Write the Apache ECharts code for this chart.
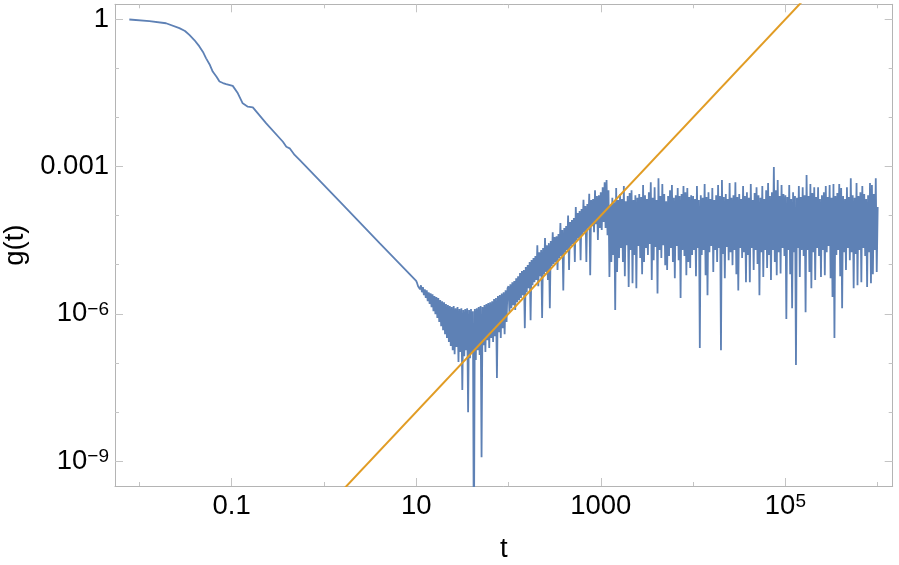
<!DOCTYPE html>
<html>
<head>
<meta charset="utf-8">
<script src="https://cdn.jsdelivr.net/npm/echarts@6/dist/echarts.min.js"></script>
<style>html,body{margin:0;padding:0;background:#fff}#c{width:899px;height:565px}</style>
</head>
<body>
<div id="c"></div>
<script>
// ---- data: [t, g(t)] ----
const smoothPart = [[0.0078,0.99],[0.0129,0.92],[0.0195,0.83],[0.0272,0.66],[0.0313,0.578],[0.0349,0.48],[0.0395,0.378],[0.0448,0.28],[0.049,0.216],[0.053,0.16],[0.0583,0.117],[0.0625,0.086],[0.069,0.0667],[0.074,0.054],[0.0807,0.0503],[0.0874,0.048],[0.103,0.044],[0.117,0.031],[0.132,0.0194],[0.150,0.0166],[0.170,0.0161],[0.2375,0.0076],[0.36,0.0032],[0.392,0.00253],[0.426,0.00235],[0.482,0.00172],[0.546,0.00136],[1.49,1.93e-4],[4.04,2.72e-5],[7.53,8.15e-6],[10,4.67e-6]];
const noise10 = [[10.24,4.2e-6],[10.49,3.65e-6],[10.75,4.0e-6],[11.01,3.15e-6],[11.27,3.8e-6],[11.55,2.75e-6],[11.83,3.5e-6],[12.12,2.4e-6],[12.41,3.15e-6],[12.71,2.1e-6],[13.02,3.0e-6],[13.34,1.8e-6],[13.66,2.75e-6],[13.99,1.58e-6],[14.33,2.6e-6],[14.68,1.37e-6],[15.03,2.5e-6],[15.40,1.13e-6],[15.77,2.3e-6],[16.16,9.8e-7],[16.55,2.2e-6],[16.96,8.2e-7],[17.36,2.1e-6],[17.78,6.8e-7],[18.22,1.9e-6],[18.66,5.6e-7],[19.11,1.8e-6],[19.57,4.6e-7],[20.05,1.72e-6],[20.54,3.85e-7],[21.03,1.58e-6],[21.54,3.2e-7],[22.07,1.5e-6],[22.61,2.65e-7],[23.15,1.44e-6],[23.71,2.2e-7],[24.29,1.37e-6],[24.88,1.8e-7],[25.49,1.44e-6],[26.10,1.5e-7],[26.74,1.3e-6],[27.38,2.1e-7],[28.05,1.37e-6],[28.73,1.04e-7],[29.43,1.25e-6],[30.15,1.66e-7],[30.88,1.3e-6],[31.62,2.8e-8],[32.40,1.19e-6],[33.18,1.37e-7],[33.99,1.25e-6],[34.81,1.8e-7],[35.66,1.3e-6],[36.52,9.9e-9],[37.41,1.19e-6],[38.31,1.25e-7],[39.25,1.25e-6],[40.20,1.66e-7],[41.18,1.13e-6],[42.17,1e-11],[43.20,1.25e-6],[44.25,1.14e-7],[45.32,1.3e-6],[46.42,1.8e-7],[47.55,1.37e-6],[48.70,1.44e-7],[49.89,1.44e-6],[51.09,1.2e-9],[52.34,1.37e-6],[53.61,2.3e-7],[54.91,1.5e-6],[56.23,1.66e-7],[57.61,1.58e-6],[59.00,2.9e-7],[60.43,1.65e-6],[61.90,2.0e-7],[63.40,1.72e-6],[64.94,3.2e-7],[66.52,1.8e-6],[68.13,2.65e-7],[69.79,2.0e-6],[71.48,3.5e-7],[73.21,2.1e-6],[74.99,4.9e-8],[76.81,2.3e-6],[78.68,4.2e-7],[80.58,2.4e-6],[82.54,3.2e-7],[84.54,2.6e-6],[86.60,5.1e-7],[88.69,2.75e-6],[90.85,3.85e-7],[93.06,3.0e-6],[95.32,6.8e-7],[97.63,3.3e-6]];
const noise100 = [[100,3.65e-6],[102.4,1.08e-6],[104.9,4.0e-6],[107.5,1.3e-6],[110.1,4.4e-6],[112.7,1.5e-6],[115.5,4.65e-6],[118.3,1.19e-6],[121.2,5.3e-6],[124.1,1.72e-6],[127.1,5.8e-6],[130.2,1.9e-6],[133.4,6.8e-6],[136.6,2.1e-6],[139.9,7.4e-6],[143.3,2.4e-6],[146.8,7.8e-6],[150.3,5.1e-7],[154.0,9.0e-6],[157.7,2.75e-6],[161.6,9.8e-6],[165.5,3.3e-6],[169.6,1.13e-5],[173.6,7.4e-7],[177.8,1.24e-5],[182.2,3.8e-6],[186.6,1.37e-5],[191.1,4.4e-6],[195.7,1.5e-5],[200.5,4.9e-6],[205.4,2.5e-5],[210.3,3.65e-6],[215.4,1.8e-5],[220.7,5.8e-6],[226.1,2.0e-5],[231.5,8.2e-7],[237.1,2.2e-5],[242.9,6.4e-6],[248.8,3.5e-5],[254.9,7.1e-6],[261.0,2.5e-5],[267.4,4.9e-6],[273.8,2.75e-5],[280.5,1.3e-6],[287.3,3.05e-5],[294.3,9.4e-6],[301.5,4.6e-5],[308.8,1.03e-5],[316.2,3.65e-5],[324.0,1.13e-5],[331.8,3.8e-5],[339.9,7.8e-6],[348.1,4.2e-5],[356.6,1.37e-5],[365.2,7.1e-5],[374.1,1.5e-5],[383.1,5.1e-5],[392.5,3.0e-6],[402.0,5.6e-5],[411.8,1.8e-5],[421.7,6.1e-5],[432.0,2.0e-5],[442.5,1.0e-4],[453.2,7.8e-6],[464.2,7.4e-5],[475.5,2.4e-5],[487.0,8.1e-5],[498.9,2.64e-5],[510.9,8.9e-5],[523.4,1.13e-5],[536.1,1.5e-4],[549.1,3.2e-5],[562.3,1.13e-4],[576.1,3.5e-5],[590.0,1.24e-4],[604.3,1.24e-5],[619.0,1.36e-4],[634.0,4.2e-5],[649.4,2.1e-4],[665.2,4.6e-5],[681.3,1.56e-4],[697.9,1.13e-5],[714.8,1.72e-4],[732.1,5.6e-5],[749.9,2.8e-4],[768.1,6.1e-6],[786.8,2.07e-4],[805.8,6.1e-5],[825.4,2.17e-4],[845.4,4.6e-5],[866.0,3.3e-4],[886.9,6.7e-5],[908.5,2.5e-4],[930.6,3.2e-5],[953.2,2.6e-4],[976.3,5.6e-5]];
const noise1000 = [[1000,3.0e-4],[1024,5.1e-5],[1049,3.8e-4],[1075,7.4e-5],[1101,4.8e-4],[1127,5.6e-5],[1155,5.3e-4],[1183,4.0e-5],[1212,3.3e-4],[1241,5.6e-6],[1271,1.64e-4],[1302,1.13e-5],[1334,2.3e-4],[1366,1.57e-5],[1399,1.88e-4],[1433,1.19e-6],[1468,3.65e-4],[1503,7.1e-6],[1540,2.07e-4],[1577,1.37e-5],[1616,2.75e-4],[1655,2.2e-5],[1696,2.17e-4],[1736,1.13e-5],[1778,4.0e-4],[1822,5.8e-6],[1866,1.97e-4],[1911,2.5e-5],[1957,2.5e-4],[2005,3.5e-6],[2054,2.9e-4],[2103,2.0e-5],[2154,3.3e-4],[2207,4.2e-6],[2261,2.07e-4],[2315,1.57e-5],[2371,2.6e-4],[2429,3.3e-6],[2488,2.3e-4],[2549,2.4e-5],[2610,2.75e-4],[2674,1.37e-5],[2738,2.4e-4],[2805,6.4e-6],[2873,4.2e-4],[2943,1.13e-5],[3015,2.6e-4],[3088,2.2e-5],[3162,2.17e-4],[3240,1.57e-5],[3318,3.0e-4],[3399,2.64e-5],[3481,4.8e-4],[3566,4.9e-6],[3652,2.3e-4],[3741,1.24e-5],[3831,3.8e-4],[3925,2.3e-5],[4020,2.07e-4],[4118,2.6e-6],[4217,5.8e-4],[4320,2.0e-5],[4425,2.5e-4],[4532,1.37e-5],[4642,4.4e-4],[4755,2.5e-5],[4870,2.75e-4],[4989,9.8e-6],[5109,1.97e-4],[5234,7.8e-6],[5361,2.5e-4],[5491,1.5e-5],[5623,3.3e-4],[5761,2.2e-5],[5900,4.2e-4],[6043,1.13e-5],[6190,2.3e-4],[6340,5.3e-6],[6494,2.6e-4],[6652,2.4e-5],[6813,3.65e-4],[6979,1.24e-5],[7148,2.5e-4],[7321,2.1e-6],[7499,2.75e-4],[7681,2.0e-5],[7868,4.0e-4],[8058,1.5e-5],[8254,3.0e-4],[8454,6.1e-6],[8660,3.65e-4],[8869,1.13e-5],[9085,2.4e-4],[9306,8.6e-6],[9532,2.6e-4],[9763,1.57e-5]];
const noise1e4 = [[10000,2.5e-4],[10240,2.0e-5],[10490,2.17e-4],[10750,5.8e-6],[11010,4.0e-4],[11270,2.2e-5],[11550,2.07e-4],[11830,2.0e-7],[12120,2.6e-4],[12410,1.57e-5],[12710,2.3e-4],[13020,2.0e-5],[13340,4.4e-4],[13660,6.1e-6],[13990,2.4e-4],[14330,2.4e-6],[14680,3.0e-4],[15030,1.8e-5],[15400,2.17e-4],[15770,2.4e-5],[16160,3.65e-4],[16550,7.1e-6],[16960,2.07e-4],[17360,2.0e-5],[17780,2.6e-4],[18220,1.13e-5],[18660,4.2e-4],[19110,2.2e-5],[19570,2.5e-4],[20050,1.8e-7],[20540,5.3e-4],[21030,1.65e-5],[21540,2.4e-4],[22070,5.3e-6],[22610,2.75e-4],[23150,2.3e-5],[23710,2.17e-4],[24290,1.24e-5],[24880,4.6e-4],[25490,1.8e-5],[26100,2.3e-4],[26740,9.8e-6],[27380,2.6e-4],[28050,2.0e-5],[28730,4.8e-4],[29430,6.4e-6],[30150,2.4e-4],[30880,3.0e-6],[31620,2.75e-4],[32400,2.2e-5],[33180,2.17e-4],[33990,1.37e-5],[34810,4.0e-4],[35660,1.8e-5],[36520,2.5e-4],[37410,4.4e-6],[38310,3.0e-4],[39250,1.57e-5],[40200,2.3e-4],[41180,4.4e-6],[42170,4.4e-4],[43200,2.2e-5],[44250,2.07e-4],[45320,7.8e-6],[46420,2.9e-4],[47550,2.0e-5],[48700,3.8e-4],[49890,1.03e-5],[51090,2.6e-4],[52340,2.4e-6],[53610,2.3e-4],[54910,1.8e-5],[56230,4.0e-4],[57610,5.6e-6],[59000,2.17e-4],[60430,2.0e-5],[61900,3.3e-4],[63400,8.6e-6],[64940,4.6e-4],[66520,1.57e-5],[68130,2.5e-4],[69790,4.9e-6],[71480,3.0e-4],[73210,2.0e-5],[74990,9.8e-4],[76810,1.13e-5],[78680,3.3e-4],[80580,6.1e-6],[82540,5.3e-4],[84540,1.8e-5],[86600,2.5e-4],[88690,6.6e-6],[90850,4.2e-4],[93060,2.2e-5],[95320,2.75e-4],[97630,1.5e-5]];
const noise1e5 = [[100000,2.6e-4],[102400,7.8e-7],[104900,2.4e-4],[107500,2.0e-5],[110100,4.2e-4],[112700,6.4e-6],[115500,2.17e-4],[118300,1.3e-6],[121200,3.0e-4],[124100,1.8e-5],[127100,2.5e-4],[130200,9.0e-8],[133400,2.3e-4],[136600,2.2e-5],[139900,4.0e-4],[143300,5.6e-6],[146800,2.4e-4],[150300,2.0e-5],[154000,3.8e-4],[157700,1.5e-5],[161600,2.6e-4],[165500,1.08e-6],[169600,6.7e-4],[173600,2.0e-5],[177800,2.5e-4],[182200,7.1e-6],[186600,4.4e-4],[191100,3.3e-6],[195700,2.9e-4],[200500,1.8e-5],[205400,3.8e-4],[210300,4.9e-6],[215400,2.4e-4],[220700,2.2e-5],[226100,3.8e-4],[231500,1.5e-5],[237100,2.17e-4],[242900,5.6e-6],[248800,2.6e-4],[254900,2.0e-5],[261000,3.0e-4],[267400,6.1e-6],[273800,4.0e-4],[280500,1.8e-5],[287300,2.4e-4],[294300,2.4e-5],[301500,4.2e-4],[308800,5.3e-6],[316200,2.3e-4],[324000,2.2e-6],[331800,4.4e-4],[339900,3.2e-7],[348100,2.5e-4],[356600,1.57e-5],[365200,2.9e-4],[374100,2.0e-5],[383100,4.4e-4],[392500,5.8e-6],[402000,3.65e-4],[411800,1.3e-6],[421700,2.5e-4],[432000,1.8e-5],[442500,2.17e-4],[453200,7.8e-6],[464200,3.8e-4],[475500,2.2e-5],[487000,2.4e-4],[498900,1.24e-5],[510900,5.8e-4],[523400,1.8e-5],[536100,2.6e-4],[549100,3.3e-6],[562300,2.3e-4],[576100,1.65e-5],[590000,4.6e-4],[604300,3.8e-6],[619000,2.5e-4],[634000,2.0e-5],[649400,3.0e-4],[665200,4.4e-6],[681300,4.0e-4],[697900,2.2e-5],[714800,2.75e-4],[732100,1.5e-5],[749900,2.17e-4],[768100,3.5e-6],[786800,2.6e-4],[805800,1.8e-5],[825400,4.6e-4],[845400,4.2e-6],[866000,4.2e-4],[886900,6.4e-6],[908500,2.75e-4],[930600,2.0e-5],[953200,5.8e-4],[976300,7.1e-6],[1000000,1.5e-4]];
// reference power law (orange line)
const fitT = [1, 1e6];
const fitG = [1e-10, 100];
// ticks
const xMajorTicks = [0.1, 10, 1000, 1e5];
const xMinorTicks = [0.01, 1, 100, 1e4, 1e6];
const yMajorTicks = [1, 1e-3, 1e-6, 1e-9];
const yMinorTicks = [0.1, 0.01, 1e-4, 1e-5, 1e-7, 1e-8];

const X_MIN = 0.00546, X_MAX = 1.454e6;
const Y_MIN = 3.1e-10, Y_MAX = 2.02;
const FONT = '"Liberation Sans", Arial, sans-serif';
const FRAME = '#b4b4b4', TICK = '#c4c4c4';

const bluePts = [].concat(smoothPart, noise10, noise100, noise1000, noise1e4, noise1e5);
const fitPts = fitT.map((t, i) => [t, fitG[i]]);

function fmtExp(v) {
  const e = Math.round(Math.log10(v));
  const plain = {'-3': '0.001', '-1': '0.1', '0': '1', '1': '10', '3': '1000'};
  if (plain[e] !== undefined) return plain[e];
  return '{b|10}{s|' + (e < 0 ? '\u2212' + (-e) : String(e)) + '}';
}
const rich = {
  b: {fontSize: 27.5, color: '#000', fontFamily: FONT},
  s: {fontSize: 19, color: '#000', fontFamily: FONT, verticalAlign: 'top'}
};

function axis(kind, pos, ticks, len, showLine, showLabel, extra) {
  const a = {
    type: 'log', logBase: 10,
    min: kind === 'x' ? X_MIN : Y_MIN,
    max: kind === 'x' ? X_MAX : Y_MAX,
    position: pos, gridIndex: 0,
    axisLine: {show: showLine, onZero: false, lineStyle: {color: FRAME, width: 1}},
    axisTick: {show: true, inside: true, length: len, customValues: ticks, lineStyle: {color: TICK, width: 1}},
    axisLabel: {show: showLabel, customValues: ticks, formatter: fmtExp, fontSize: 27.5, color: '#000', fontFamily: FONT, margin: 6, rich: rich},
    splitLine: {show: false},
    minorTick: {show: false}
  };
  return Object.assign(a, extra || {});
}

const chart = echarts.init(document.getElementById('c'), null, {renderer: 'canvas'});
chart.setOption({
  animation: false,
  backgroundColor: '#fff',
  textStyle: {fontFamily: FONT},
  grid: {left: 115, right: 6.3, top: 4.3, bottom: 79, containLabel: false, outerBoundsMode: 'none'},
  xAxis: [
    axis('x', 'bottom', xMajorTicks, 8, true, true, {name: 't', nameLocation: 'middle', nameGap: 49, nameTextStyle: {fontSize: 27.5, color: '#000', fontFamily: FONT}}),
    axis('x', 'bottom', xMinorTicks, 4, false, false),
    axis('x', 'top', xMajorTicks, 8, true, false),
    axis('x', 'top', xMinorTicks, 4, false, false)
  ],
  yAxis: [
    axis('y', 'left', yMajorTicks, 8, true, true, {name: 'g(t)', nameLocation: 'middle', nameGap: 84, nameTextStyle: {fontSize: 27.5, color: '#000', fontFamily: FONT}}),
    axis('y', 'left', yMinorTicks, 4, false, false),
    axis('y', 'right', yMajorTicks, 8, true, false),
    axis('y', 'right', yMinorTicks, 4, false, false)
  ],
  series: [
    {type: 'line', name: 'g', data: bluePts, xAxisIndex: 0, yAxisIndex: 0, symbol: 'none', showSymbol: false,
     lineStyle: {color: '#5E81B5', width: 1.8}, clip: true, silent: true, z: 2},
    {type: 'line', name: 'fit', data: fitPts, xAxisIndex: 0, yAxisIndex: 0, symbol: 'none', showSymbol: false,
     lineStyle: {color: '#E19C24', width: 2}, clip: true, silent: true, z: 3}
  ]
});
</script>
</body>
</html>
